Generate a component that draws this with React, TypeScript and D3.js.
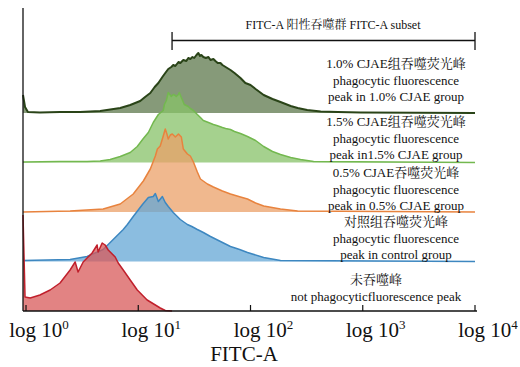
import React from 'react';
import * as d3 from 'd3';

// FITC-A intensity vs relative count, one histogram per group (top to bottom)
const groupKeys = ['cjae10', 'cjae15', 'cjae05', 'control', 'unstained'];

const cjae10: [number, number][] = [
  [0.94, 18], [0.96, 12], [0.98, 6], [1.04, 1], [1.33, 0.5], [2.01, 1], [3.03, 1], [4.58, 2],
  [6.91, 5], [8.48, 8], [10.4, 12], [11.5, 16], [12.8, 20], [14, 26], [15.1, 30], [16.4, 36],
  [17.4, 40], [18.5, 44], [19.7, 46], [20.5, 48], [21.4, 47], [22.8, 51], [23.7, 50], [25.2, 53],
  [26.8, 52], [27.9, 55], [29.1, 54], [30.4, 56], [31.5, 55], [33, 58], [34.3, 60], [35.5, 57],
  [36.5, 58], [38, 56], [40, 55], [42.2, 56], [44, 53], [46.7, 54], [48.7, 52], [51, 50],
  [54, 50], [56.2, 48], [60, 46], [66.3, 43], [72, 40], [81.4, 35], [90, 30], [100, 28],
  [111, 24], [131, 18], [157, 14], [185, 11], [228, 7], [263, 5], [320, 3], [422, 1.5],
  [600, 1], [960, 0.5], [10000, 0],
];

const cjae15: [number, number][] = [
  [0.94, 0.5], [2, 1], [3.5, 1], [4.58, 1.5], [5.62, 3], [6.91, 6], [8.48, 10], [9.8, 16],
  [11.1, 24], [12.3, 30], [13.6, 40], [15.1, 48], [16.7, 52], [17.1, 58], [17.8, 62], [18.5, 70],
  [19.1, 68], [19.7, 66], [20.5, 68], [21.4, 67], [21.8, 66], [22.8, 68], [23.2, 70], [24.2, 65],
  [25.7, 58], [27.9, 56], [29.1, 54], [31, 52], [33.6, 48], [35.8, 45], [38, 42], [42.2, 40],
  [46.7, 38], [50, 37], [56.2, 35], [60, 34], [66.3, 33], [72, 31], [81.4, 29], [94, 26],
  [111, 22], [131, 16], [157, 11], [185, 8], [228, 5], [279, 3], [365, 1], [10000, 0],
];

const cjae05: [number, number][] = [
  [0.94, 0], [2.47, 1], [4.87, 3], [6.91, 8], [9.02, 18], [11.1, 31], [12.8, 43], [14.2, 56],
  [14.8, 63], [15.7, 66], [16.7, 76], [17.4, 83], [18, 78], [18.5, 73], [19.3, 77], [20.1, 78],
  [21.4, 75], [22.8, 78], [24.2, 75], [25.2, 63], [27.4, 58], [29.1, 56], [31, 50], [33.6, 40],
  [35.8, 33], [41.3, 28], [46.7, 25], [56.2, 21], [66.3, 18], [81.4, 15], [94, 13], [111, 9],
  [131, 6], [185, 3], [263, 1], [10000, 0],
];

const control: [number, number][] = [
  [0.94, 1], [2.47, 2], [3.5, 5], [4.87, 12], [5.98, 22], [7.35, 32], [8, 37], [9.02, 45],
  [10.9, 57], [12.3, 64], [13.6, 65], [14.2, 68], [15.1, 60], [16.4, 65], [17.4, 59], [18.5, 55],
  [20.5, 49], [23.7, 42], [27.4, 37], [30, 35], [33.6, 32], [38, 29], [44, 25], [54, 20],
  [66.3, 15], [80, 12], [94, 9], [131, 4], [185, 1], [10000, 0],
];

const unstained: [number, number][] = [
  [0.94, 96], [0.98, 14], [1.09, 13], [1.33, 16], [1.64, 21], [2.01, 28], [2.47, 41], [2.74, 49],
  [2.91, 39], [3.23, 49], [3.5, 53], [3.88, 58], [4.3, 66], [4.39, 59], [4.77, 68], [5.07, 66],
  [5.4, 61], [6.23, 54], [6.63, 48], [7.35, 41], [8.48, 31], [9.8, 21], [12, 11], [15.7, 3],
  [17.4, 0.5], [20, 0],
];

const seriesData: Record<string, [number, number][]> = { cjae10, cjae15, cjae05, control, unstained };

const groupLabels: string[][] = [
  ['1.0% CJAE组吞噬荧光峰', 'phagocytic fluorescence', 'peak in 1.0% CJAE group'],
  ['1.5% CJAE组吞噬荧光峰', 'phagocytic fluorescence', 'peak in1.5% CJAE group'],
  ['0.5% CJAE吞噬荧光峰', 'phagocytic fluorescence', 'peak in 0.5% CJAE group'],
  ['对照组吞噬荧光峰', 'phagocytic fluorescence', 'peak in control group'],
  ['未吞噬峰', 'not phagocyticfluorescence peak'],
];

const xTicks = [1, 10, 100, 1000, 10000];
const gate = [20, 10000];
const gateLabel = 'FITC-A 阳性吞噬群 FITC-A subset';
const xTitle = 'FITC-A';

const fills = ['#5d784c', '#87c168', '#eba068', '#64a7d5', '#d85a5a'];
const strokes = ['#2a4418', '#73b84f', '#e8833e', '#3d87c0', '#c0202c'];

const serif = "'Liberation Serif', 'Times New Roman', 'Noto Serif CJK SC', 'Noto Sans CJK SC', serif";

export default function App() {
  const width = 520;
  const height = 367;
  const left = 23;
  const axisY = 311;

  const x = d3.scaleLog().domain([0.94, 10000]).range([left, 475]);
  // baseline of each stacked histogram
  const base = d3.scaleLinear().domain([0, groupKeys.length - 1]).range([113, axisY]);
  const h = d3.scaleLinear().domain([0, 100]).range([0, 100]);

  const labelTop = [68, 126, 177, 226, 284];
  const labelX = [396, 396, 396, 396, 376];

  return (
    <svg width={width} height={height} style={{ position: 'absolute', left: 0, top: 0, background: '#fff' }}>
      {groupKeys.map((k, i) => {
        const b = base(i);
        const area = d3.area<[number, number]>()
          .x(d => x(d[0]))
          .y0(b)
          .y1(d => b - h(d[1]));
        const line = d3.line<[number, number]>()
          .x(d => x(d[0]))
          .y(d => b - h(d[1]));
        return (
          <g key={k}>
            <path d={area(seriesData[k]) || ''} fill={fills[i]} fillOpacity={0.75} />
            <path d={line(seriesData[k]) || ''} fill="none" stroke={strokes[i]}
              strokeWidth={i === 0 ? 2 : 1.5} strokeLinejoin="round" />
          </g>
        );
      })}

      {groupLabels.map((lines, i) => (
        <text key={i} fontFamily={serif} fontSize={13} textAnchor="middle" fill="#111">
          {lines.map((t, j) => (
            <tspan key={j} x={labelX[i]} y={labelTop[i] + j * 16.5}>{t}</tspan>
          ))}
        </text>
      ))}

      {/* gate bracket */}
      <g stroke="#111" strokeWidth={1.3}>
        <line x1={x(gate[0])} x2={x(gate[1])} y1={40.5} y2={40.5} />
        <line x1={x(gate[0])} x2={x(gate[0])} y1={32} y2={50} />
        <line x1={x(gate[1])} x2={x(gate[1])} y1={32} y2={50} />
      </g>
      <text x={333} y={29} fontFamily={serif} fontSize={12} textAnchor="middle" fill="#111">{gateLabel}</text>

      {/* axes */}
      <line x1={left} x2={left} y1={8} y2={axisY} stroke="#111" strokeWidth={1.3} />
      <line x1={left} x2={477} y1={axisY} y2={axisY} stroke="#111" strokeWidth={1.3} />
      {xTicks.map(t => (
        <g key={t}>
          <line x1={x(t)} x2={x(t)} y1={axisY} y2={axisY - 6} stroke="#111" strokeWidth={1.2} />
          <text x={x(t) + 13} y={337} fontFamily={serif} fontSize={21} textAnchor="middle" fill="#111">
            <tspan>log 10</tspan>
            <tspan fontSize={13} dy={-8}>{Math.round(Math.log10(t))}</tspan>
          </text>
        </g>
      ))}
      <text x={244} y={361} fontFamily={serif} fontSize={21} textAnchor="middle" fill="#111">{xTitle}</text>
    </svg>
  );
}
